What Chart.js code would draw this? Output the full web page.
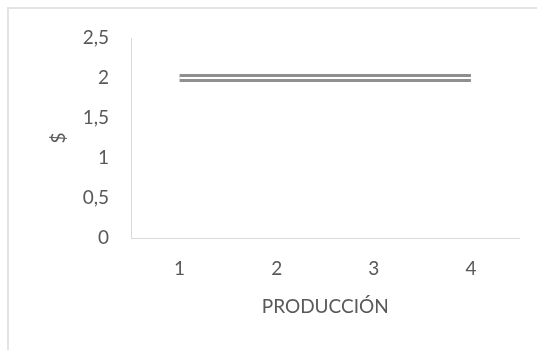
<!DOCTYPE html>
<html>
<head>
<meta charset="utf-8">
<script src="https://cdn.jsdelivr.net/npm/chart.js@4"></script>
<style>
  html, body { margin: 0; padding: 0; background: #fff; overflow: hidden; }
  #wrap { position: relative; width: 537px; height: 350px; }
  #frame { position: absolute; left: 7px; top: 7px; width: 700px; height: 500px;
           border-top: 2px solid #e3e3e3; border-left: 2px solid #e3e3e3; }
  #chart { position: absolute; left: 0; top: 0; }
</style>
</head>
<body>
<div id="wrap">
  <div id="frame"></div>
  <canvas id="chart" width="537" height="350"></canvas>
</div>
<script>
const produccion = ['1', '2', '3', '4'];
const costo = [2, 2, 2, 2];
const yTicks = [0, 0.5, 1, 1.5, 2, 2.5];

const textColor = '#595959';
const axisColor = '#d9d9d9';
const lineGray = '#8f8f8f';
const fontFamily = 'Lato, "Open Sans", sans-serif';
const fontSize = 19;

const ctx = document.getElementById('chart').getContext('2d');
new Chart(ctx, {
    type: 'line',
    data: {
        labels: produccion,
        datasets: [
            // inner white stripe gives the double-line look
            { data: costo, borderColor: '#ffffff', borderWidth: 2, pointRadius: 0, order: 0 },
            { data: costo, borderColor: lineGray, borderWidth: 8, pointRadius: 0, order: 1 }
        ]
    },
    options: {
        responsive: false,
        animation: false,
        layout: { padding: { top: 38, right: 17.5, left: 0, bottom: 0 } },
        plugins: { legend: { display: false }, tooltip: { enabled: false } },
        scales: {
            x: {
                offset: true,
                grid: { display: false, drawTicks: false },
                border: { display: true, color: axisColor, width: 1 },
                ticks: { color: textColor, font: { family: fontFamily, size: fontSize }, padding: 19 },
                title: { display: true, text: 'PRODUCCIÓN', color: textColor,
                         font: { family: fontFamily, size: fontSize }, padding: { bottom: 32 } },
                afterFit: s => { s.height = 112; }
            },
            y: {
                min: 0, max: 2.5,
                afterBuildTicks: s => { s.ticks = yTicks.map(v => ({ value: v })); },
                grid: { display: false, drawTicks: false },
                border: { display: true, color: axisColor, width: 1 },
                ticks: {
                    color: textColor, font: { family: fontFamily, size: fontSize }, padding: 22,
                    callback: v => String(v).replace('.', ',')
                },
                title: { display: true, text: '$', color: textColor,
                         font: { family: fontFamily, size: fontSize }, padding: { top: 47 } },
                afterFit: s => { s.width = 131; }
            }
        }
    }
});
</script>
</body>
</html>
